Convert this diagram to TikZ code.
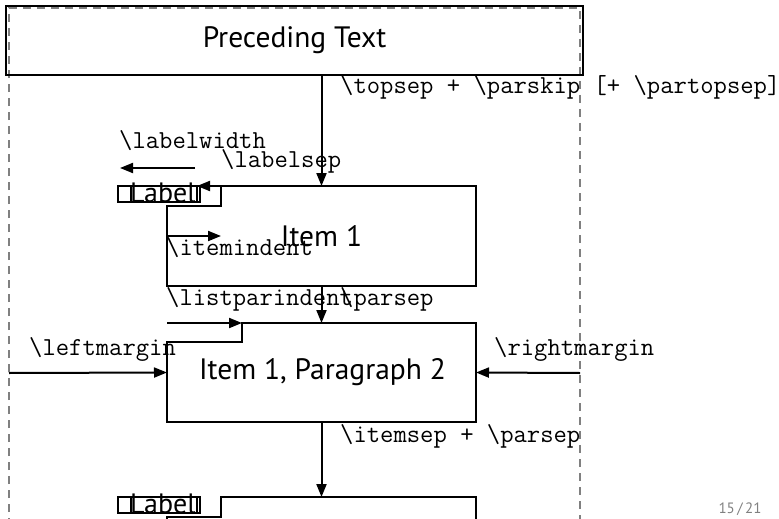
\documentclass[tikz,border=0pt]{standalone}
\usepackage{fontspec}
\setmainfont{PT Sans}
\usetikzlibrary{arrows.meta}
\begin{document}
\begin{tikzpicture}[x=1pt,y=-1pt,
  box/.style={draw=black, line width=2pt},
  lbox/.style={draw=black, line width=1.5pt},
  conn/.style={line width=2pt, -{Triangle[length=13pt,width=10pt]}},
  frame/.style={draw=gray, line width=1.2pt, dash pattern=on 8pt off 6pt},
  ttlbl/.style={inner sep=0pt, anchor=base west, font=\ttfamily\fontsize{25.9}{30}\selectfont},
  sanslbl/.style={inner sep=0pt, font=\fontsize{29.5}{34}\selectfont},
  labeltxt/.style={inner sep=0pt, anchor=base west, font=\fontsize{28}{32}\selectfont},
]
\useasboundingbox (0,0) rectangle (779,519);
\clip (0,0) rectangle (779,519);

% dashed frame
\draw[frame] (9,540) -- (9,8) -- (580,8) -- (580,540);

% preceding text
\node[box, sanslbl, minimum width=577pt, minimum height=69pt] (prec) at (294.5,40.5) {Preceding Text};

% item 1 box
\coordinate (i1a) at (221,186);
\coordinate (i1b) at (476,186);
\coordinate (i1c) at (476,286);
\coordinate (i1d) at (167,286);
\coordinate (i1e) at (167,206);
\coordinate (i1f) at (221,206);
\draw[box] (i1a) -- (i1b) -- (i1c) -- (i1d) -- (i1e) -- (i1f) -- cycle;
\node[sanslbl] (item1) at (321.5,236) {Item 1};

% label 1
\coordinate (lab1tip) at (197,186);
\draw[lbox] (118,186) rectangle (197,202);
\draw[lbox] (131,186) rectangle (200,202);
\node[labeltxt] (label1) at (130,202) {Label};

% item 1 paragraph 2 box
\coordinate (i2a) at (242,323);
\coordinate (i2b) at (476,323);
\coordinate (i2c) at (476,422);
\coordinate (i2d) at (167,422);
\coordinate (i2e) at (167,342);
\coordinate (i2f) at (242,342);
\draw[box] (i2a) -- (i2b) -- (i2c) -- (i2d) -- (i2e) -- (i2f) -- cycle;
\node[sanslbl] (item2) at (322.5,372.5) {Item 1, Paragraph 2};

% next item box (cut off)
\coordinate (i3a) at (221,497);
\coordinate (i3b) at (476,497);
\coordinate (i3c) at (476,540);
\coordinate (i3d) at (167,540);
\coordinate (i3e) at (167,517);
\coordinate (i3f) at (221,517);
\draw[box] (i3c) -- (i3b) -- (i3a) -- (i3f) -- (i3e) -- (i3d);
\draw[lbox] (118,497) rectangle (197,513);
\draw[lbox] (131,497) rectangle (200,513);
\node[labeltxt] (label2) at (130,513) {Label};

% margin coordinates
\coordinate (lmL) at (9,373);
\coordinate (rmR) at (580,373);
\coordinate (lwS) at (195,168);
\coordinate (lwE) at (120,168);
\coordinate (lpS) at (167,323);

% connectors
\draw[conn] (prec.south -| item1) -- (i1a -| item1);
\draw[conn] (i1a) -- (lab1tip);
\draw[conn] (lwS) -- (lwE);
\draw[conn] (i1d |- item1) -- (i1a |- item1);
\draw[conn] (i1d -| item1) -- (i2a -| item1);
\draw[conn] (lpS) -- (i2a);
\draw[conn] (lmL) -- (i2d |- item2);
\draw[conn] (rmR) -- (i2c |- item2);
\draw[conn] (i2d -| item1) -- (i3a -| item1);

% labels
\node[ttlbl] (tsep) at (340,93) {\textbackslash topsep + \textbackslash parskip [+ \textbackslash partopsep]};
\node[ttlbl] (lwid) at (119,148) {\textbackslash labelwidth};
\node[ttlbl] (lsep) at (221,167) {\textbackslash labelsep};
\node[ttlbl] (iind) at (166,255) {\textbackslash itemindent};
\node[ttlbl] (lpind) at (166,305) {\textbackslash listparindent};
\node[ttlbl] (psep) at (340,305) {\textbackslash parsep};
\node[ttlbl] (lmar) at (29,355) {\textbackslash leftmargin};
\node[ttlbl] (rmar) at (494,355) {\textbackslash rightmargin};
\node[ttlbl] (isep) at (340,442) {\textbackslash itemsep + \textbackslash parsep};

% page number
\node[inner sep=0pt, anchor=base, text=gray, font=\fontsize{15}{17}\selectfont] (pnum) at (740,513) {15\,/\,21};
\end{tikzpicture}
\end{document}
